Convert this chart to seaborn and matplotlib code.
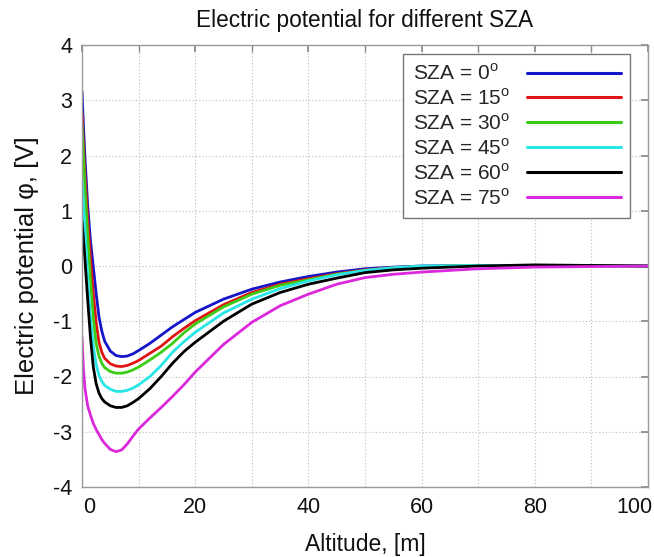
import matplotlib
matplotlib.use("Agg")
import matplotlib.pyplot as plt
import matplotlib.transforms as mtransforms
import seaborn as sns
import pandas as pd
from matplotlib.ticker import MultipleLocator

altitude = [0, 0.25, 0.5, 1, 1.5, 2, 2.5, 3, 3.5, 4, 5, 6, 7, 8, 9, 10, 12, 14, 16, 18, 20,
            25, 30, 35, 40, 45, 50, 55, 60, 70, 80, 90, 100]

sza_labels = ["SZA = 0", "SZA = 15", "SZA = 30", "SZA = 45", "SZA = 60", "SZA = 75"]

phi_0 = [3.16, 2.55, 2.0, 1.1, 0.45, -0.02, -0.5, -0.92, -1.18, -1.36, -1.54, -1.62, -1.64, -1.63,
         -1.59, -1.53, -1.40, -1.25, -1.10, -0.97, -0.84, -0.60, -0.42, -0.29, -0.19, -0.11,
         -0.05, -0.02, 0.0, 0.01, 0.01, 0.005, 0.0]
phi_15 = [2.77, 2.2, 1.7, 0.85, 0.15, -0.5, -1.02, -1.38, -1.56, -1.67, -1.77, -1.81, -1.82, -1.80,
          -1.76, -1.71, -1.58, -1.45, -1.28, -1.13, -0.99, -0.70, -0.48, -0.33, -0.23, -0.14,
          -0.07, -0.03, -0.01, 0.01, 0.01, 0.005, 0.0]
phi_30 = [2.56, 2.0, 1.45, 0.55, -0.25, -0.95, -1.4, -1.63, -1.76, -1.84, -1.91, -1.94, -1.94, -1.92,
          -1.88, -1.83, -1.70, -1.56, -1.40, -1.21, -1.05, -0.74, -0.51, -0.35, -0.25, -0.15,
          -0.08, -0.04, -0.01, 0.01, 0.01, 0.005, 0.0]
phi_45 = [1.6, 1.15, 0.7, -0.2, -0.95, -1.45, -1.78, -1.98, -2.09, -2.16, -2.23, -2.27, -2.27, -2.25,
          -2.21, -2.15, -2.0, -1.80, -1.56, -1.37, -1.20, -0.85, -0.60, -0.41, -0.27, -0.16,
          -0.08, -0.03, 0.0, 0.01, 0.01, 0.0, 0.0]
phi_60 = [0.81, 0.5, 0.15, -0.6, -1.3, -1.83, -2.13, -2.3, -2.4, -2.46, -2.53, -2.56, -2.56, -2.53,
          -2.47, -2.40, -2.22, -2.0, -1.76, -1.55, -1.38, -1.0, -0.69, -0.48, -0.33, -0.22,
          -0.12, -0.07, -0.04, 0.0, 0.02, 0.01, 0.0]
phi_75 = [-1.29, -1.85, -2.2, -2.53, -2.7, -2.85, -2.96, -3.05, -3.14, -3.21, -3.32, -3.36, -3.33, -3.22,
          -3.08, -2.95, -2.75, -2.56, -2.36, -2.15, -1.92, -1.42, -1.02, -0.72, -0.51, -0.33,
          -0.21, -0.15, -0.11, -0.05, -0.02, -0.01, 0.0]

series = [phi_0, phi_15, phi_30, phi_45, phi_60, phi_75]
colors = ["#1414c8", "#e01414", "#3ccc14", "#28e6e6", "#000000", "#dc28dc"]

rows = []
for lab, vals in zip(sza_labels, series):
    for a, v in zip(altitude, vals):
        rows.append({"Altitude": a, "phi": v, "SZA": lab})
df = pd.DataFrame(rows)

sns.set_theme(style="white")
plt.rcParams["font.family"] = ["Liberation Sans", "DejaVu Sans"]
plt.rcParams["axes.unicode_minus"] = False
plt.rcParams["mathtext.fontset"] = "custom"
plt.rcParams["mathtext.rm"] = "Liberation Sans"

fig = plt.figure(figsize=(6.54, 5.57), dpi=100)
ax = fig.add_axes([82 / 654, 1 - 487 / 557, 566 / 654, 442 / 557])

sns.lineplot(data=df, x="Altitude", y="phi", hue="SZA", palette=dict(zip(sza_labels, colors)),
             linewidth=2.0, ax=ax, legend=True)

ax.set_xlim(0, 100)
ax.set_ylim(-4, 4)
ax.xaxis.set_major_locator(MultipleLocator(20))
ax.xaxis.set_minor_locator(MultipleLocator(10))
ax.yaxis.set_major_locator(MultipleLocator(1))
ax.grid(True, which="both", linestyle=(0, (1, 2)), color="#bdbdbd", linewidth=0.8)
ax.tick_params(which="both", direction="in", top=True, right=True, length=5,
               color="#888888", labelsize=15.5, labelcolor="#111111", pad=7)
for s in ax.spines.values():
    s.set_color("#999999")
    s.set_linewidth(1.0)

fig.canvas.draw()
for t in ax.get_xticklabels():
    txt = t.get_text()
    if txt == "0":
        t.set_transform(t.get_transform() + mtransforms.ScaledTranslation(7 / 100, 0, fig.dpi_scale_trans))
    elif txt == "100":
        t.set_transform(t.get_transform() + mtransforms.ScaledTranslation(-14 / 100, 0, fig.dpi_scale_trans))

ax.set_xlabel("Altitude, [m]", fontsize=16.5, color="#111111", labelpad=11)
ax.set_ylabel("Electric potential φ, [V]", fontsize=18.5, color="#111111", labelpad=10)
ax.set_title("Electric potential for different SZA", fontsize=16.3, color="#111111", pad=13)

handles, _ = ax.get_legend_handles_labels()
leg_labels = [lab + r"$^\mathregular{o}$" for lab in sza_labels]
leg = ax.legend(handles, leg_labels, loc="upper right", bbox_to_anchor=(0.968, 0.980),
                borderaxespad=0, markerfirst=False, fontsize=15, handlelength=4.5,
                handletextpad=0.8, labelspacing=0.2, borderpad=0.45, frameon=True,
                fancybox=False, edgecolor="#777777", framealpha=1)
leg.get_frame().set_linewidth(1.0)
for line in leg.get_lines():
    line.set_linewidth(2.2)

# left-align legend texts while keeping the line samples on the right
try:
    renderer = fig.canvas.get_renderer()
    items = []
    for col in leg._legend_handle_box.get_children():
        items.extend(col.get_children())
    wmax = max(it.get_bbox(renderer).width for it in items)
    for it in items:
        it.width = wmax
        it.mode = "expand"
except Exception:
    pass

fig.savefig("out.png", dpi=100)
